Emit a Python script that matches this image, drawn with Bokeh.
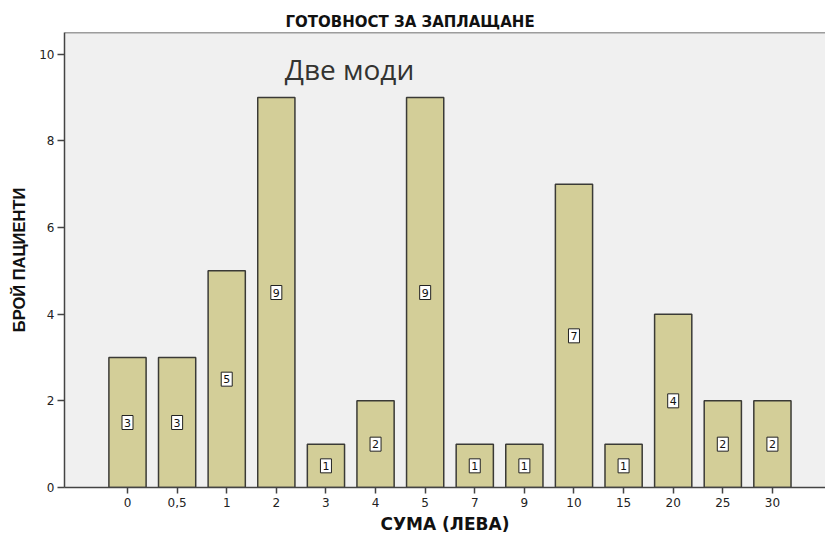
from bokeh.plotting import figure
from bokeh.models import Range1d, FixedTicker, Label, Span, Title, ColumnDataSource
from bokeh.core.properties import value
from bokeh.embed import file_html
from bokeh.resources import INLINE

# Willingness-to-pay amounts (BGN) and number of patients per amount
categories = ["0", "0,5", "1", "2", "3", "4", "5", "7", "9", "10", "15", "20", "25", "30"]
counts = [3, 3, 5, 9, 1, 2, 9, 1, 1, 7, 1, 4, 2, 2]
y_ticks = [0, 2, 4, 6, 8, 10]

xs = list(range(len(categories)))
src = ColumnDataSource(dict(
    x=xs,
    top=counts,
    mid=[c / 2 for c in counts],
    txt=[str(c) for c in counts],
))

p = figure(
    width=825, height=536,
    output_backend="svg", toolbar_location=None,
    x_range=Range1d(-1.27, 14.07), y_range=Range1d(0, 10.5),
    min_border_left=64, min_border_right=0, min_border_top=32, min_border_bottom=49,
    background_fill_color="#f0f0f0", border_fill_color="white",
    outline_line_color=None,
)
p.title = Title(text="ГОТОВНОСТ ЗА ЗАПЛАЩАНЕ", align="left",
                text_font="DejaVu Sans", text_font_size="15px",
                text_font_style="bold", text_color="#111111", offset=221, standoff=4)

p.vbar(x="x", top="top", width=0.75, bottom=0, source=src,
       fill_color="#d3ce98", line_color="#3a3a36", line_width=1.5)

# value boxes in the middle of each bar
p.rect(x="x", y="mid", width=11, height=14, width_units="screen", height_units="screen",
       source=src, fill_color="white", line_color="#222222", line_width=1)
p.text(x="x", y="mid", text="txt", source=src, text_align="center", text_baseline="middle",
       text_font=value("DejaVu Sans"), text_font_size="11px", text_color="#111111")

# top frame edge
p.add_layout(Span(location=10.5, dimension="width", line_color="#444444", line_width=1.5))

p.add_layout(Label(x=3.17, y=9.65, text="Две моди", text_font="Open Sans",
                   text_font_size="28px", text_color="#333330", text_baseline="alphabetic"))

p.xgrid.grid_line_color = None
p.ygrid.grid_line_color = None

p.xaxis.ticker = FixedTicker(ticks=xs)
p.xaxis.major_label_overrides = {i: c for i, c in enumerate(categories)}
p.xaxis.minor_tick_line_color = None
p.xaxis.major_tick_in = 0
p.xaxis.major_tick_out = 6
p.xaxis.axis_label = "СУМА (ЛЕВА)"

p.yaxis.ticker = FixedTicker(ticks=y_ticks)
p.yaxis.minor_tick_line_color = None
p.yaxis.major_tick_in = 0
p.yaxis.major_tick_out = 7
p.yaxis.axis_label = "БРОЙ ПАЦИЕНТИ"

for ax in (p.xaxis, p.yaxis):
    ax.axis_line_color = "#444444"
    ax.axis_line_width = 1.5
    ax.major_tick_line_color = "#444444"
    ax.major_tick_line_width = 1.5
    ax.major_label_text_font = "DejaVu Sans"
    ax.major_label_text_font_size = "12px"
    ax.major_label_text_color = "#222222"
    ax.axis_label_text_font_style = "bold"
    ax.axis_label_text_color = "#111111"

p.xaxis.axis_label_text_font = "DejaVu Sans"
p.xaxis.axis_label_text_font_size = "17px"
p.yaxis.axis_label_text_font = "Liberation Sans"
p.yaxis.axis_label_text_font_size = "16.5px"

p.xaxis.major_label_standoff = 4
p.xaxis.axis_label_standoff = 4
p.yaxis.major_label_standoff = 3
p.yaxis.axis_label_standoff = 8

open("out.html", "w").write(file_html(p, INLINE))
